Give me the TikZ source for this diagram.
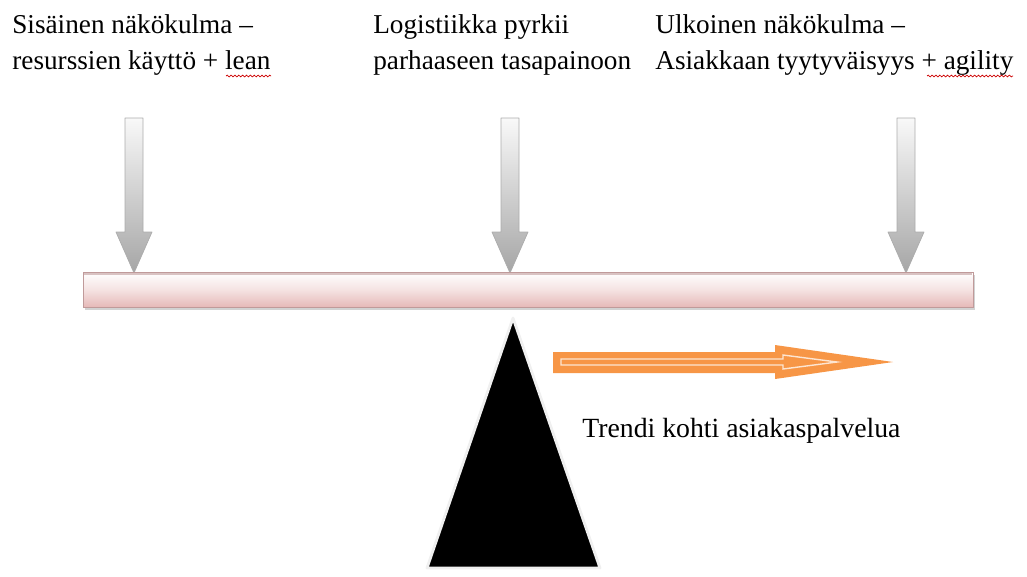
\documentclass[tikz,border=0pt]{standalone}
\usepackage{fontspec}
\setmainfont{Liberation Serif}
\usetikzlibrary{decorations.pathmorphing}
\definecolor{beampink}{HTML}{E6B9B8}
\definecolor{beamedge}{HTML}{C09A9A}
\definecolor{trendorange}{HTML}{F79646}
\tikzset{
  label text/.style={anchor=north west, align=left, inner sep=0pt, font=\fontsize{15.5}{20.5}\selectfont},
  down arrow/.style={draw=gray!65, top color=gray!5, bottom color=gray!70, line join=round},
  spell/.style={red!80!black, line width=0.4pt, decorate, decoration={snake, amplitude=0.5pt, segment length=2.2pt}}
}
\begin{document}
\begin{tikzpicture}[x=0.02cm, y=-0.02cm]
  \useasboundingbox (0, 0) rectangle (1027, 576);
  % texts on top
  \node [label text] (inner) at (12, 14) {Sisäinen näkökulma –\\resurssien käyttö + lean};
  \node [label text] (balance) at (373, 14) {Logistiikka pyrkii\\parhaaseen tasapainoon};
  \node [label text] (outer) at (655, 14) {Ulkoinen näkökulma –\\Asiakkaan tyytyväisyys + agility};
  \draw [spell] (226, 76) -- (271, 76);
  \draw [spell] (927, 76) -- (1013, 76);
  % weights pressing down
  \draw [down arrow] (125, 118) -- (143, 118) -- (143, 232) -- (152, 232) -- (134, 273) -- (116, 232) -- (125, 232) -- cycle;
  \draw [down arrow] (501, 118) -- (519, 118) -- (519, 232) -- (528, 232) -- (510, 273) -- (492, 232) -- (501, 232) -- cycle;
  \draw [down arrow] (897, 118) -- (915, 118) -- (915, 232) -- (924, 232) -- (906, 273) -- (888, 232) -- (897, 232) -- cycle;
  % the beam
  \fill [gray!35] (85, 275) rectangle (975, 310);
  \draw [beamedge, top color=white, bottom color=beampink, middle color=white!60!beampink] (83, 272) rectangle (973, 307);
  \draw [beamedge!60, line width=0.8pt] (84, 274) -- (972, 274);
  % fulcrum
  \draw [gray!12, line width=1.6pt, fill=black, line join=round] (513, 318) -- (600, 568) -- (427, 568) -- cycle;
  % trend arrow
  \fill [trendorange] (553, 352) -- (775, 352) -- (775, 345) -- (893, 362) -- (775, 379) -- (775, 373) -- (553, 373) -- cycle;
  \draw [white!75!trendorange, line width=0.8pt] (561, 359) -- (783, 359) -- (783, 355) -- (837, 362) -- (783, 369) -- (783, 365) -- (561, 365) -- cycle;
  \node [anchor=west, inner sep=0pt, font=\fontsize{15.8}{18}\selectfont] (trend) at (582, 431) {Trendi kohti asiakaspalvelua};
\end{tikzpicture}
\end{document}
